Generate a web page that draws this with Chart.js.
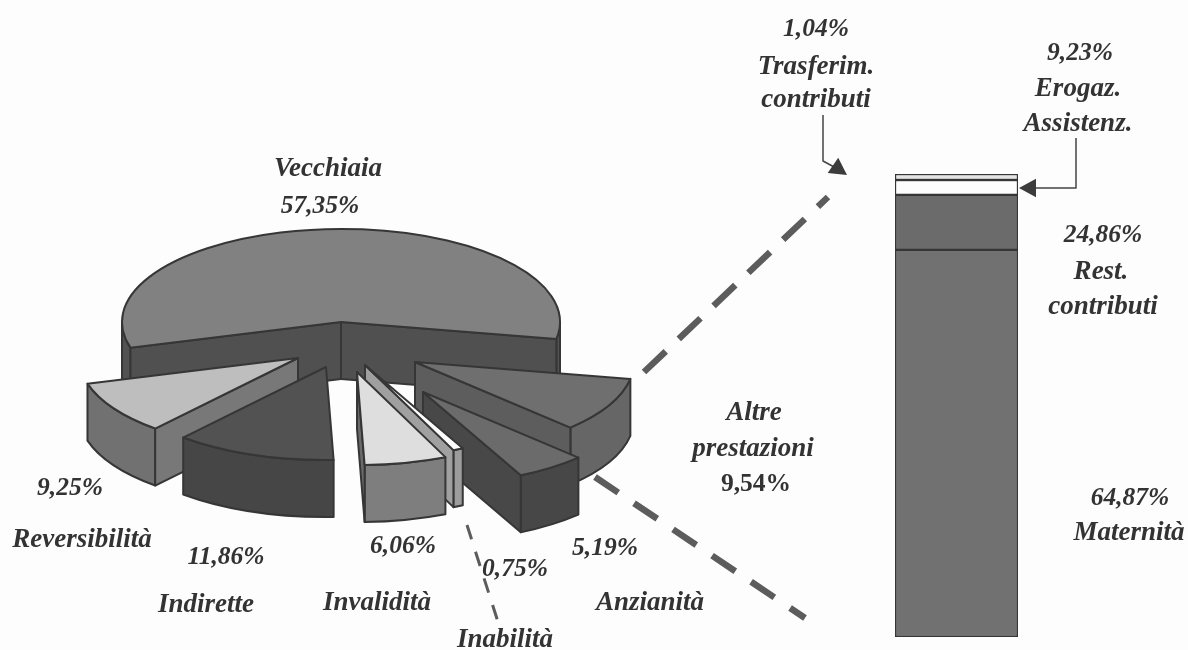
<!DOCTYPE html>
<html>
<head>
<meta charset="utf-8">
<script src="https://cdn.jsdelivr.net/npm/chart.js@4"></script>
<style>
    html, body { margin: 0; padding: 0; background: #fdfdfd; }
    #page { position: relative; width: 1188px; height: 650px; overflow: hidden; filter: blur(0.5px); }
    canvas { position: absolute; }
    .lbl {
        position: absolute;
        transform: translate(-50%, -50%);
        font: italic bold 27px "Liberation Serif", serif;
        color: #333333;
        white-space: nowrap;
    }
    .lbl.pct { font-size: 25.5px; }
    .lbl.upright { font-style: normal; }
</style>
</head>
<body>
<div id="page">
    <canvas id="pieChart" width="1188" height="650" style="left:0;top:0"></canvas>
    <canvas id="barChart" width="127" height="467" style="left:893px;top:172px"></canvas>
</div>
<script>
// Pie data, as printed on the slices
const sliceNames = ['Vecchiaia', 'Altre prestazioni', 'Anzianità', 'Inabilità', 'Invalidità', 'Indirette', 'Reversibilità'];
const sliceValues = [57.35, 9.54, 5.19, 0.75, 6.06, 11.86, 9.25];

// Column data: printed shares, and the heights really drawn in the picture (they differ)
const barNames = ['Maternità', 'Rest. contributi', 'Erogaz. Assistenz.', 'Trasferim. contributi'];
const barPrinted = [64.87, 24.86, 9.23, 1.04];
const barHeights = [83.6, 11.9, 3.2, 1.3];

// Styles
const sliceTop = ['#818181', '#6f6f6f', '#6b6b6b', '#fdfdfd', '#dedede', '#525252', '#bebebe'];
const sliceRim = ['#525252', '#666666', '#474747', '#9c9c9c', '#7e7e7e', '#464646', '#717171'];
const sliceFace = ['#505050', '#5d5d5d', '#484848', '#a0a0a0', '#6a6a6a', '#464646', '#787878'];
const barColors = ['#717171', '#6b6b6b', '#fdfdfd', '#e4e4e4'];
const outline = '#363636';

// Where each exploded slice has its tip on the page, and the 3D look
const sliceTips = [[341, 322], [415, 362], [423, 392], [365, 365], [357, 372], [326, 367], [298, 358]];
const drawOrder = [0, 1, 6, 2, 5, 3, 4];
const tilt = 0.425;
const depth = 57;

const fmt = v => v.toFixed(2).replace('.', ',') + '%';

// Text labels: [text, centre x, centre y]
const labels = [
    [sliceNames[0], 328, 167], [fmt(sliceValues[0]), 320, 205],
    ['Altre', 754, 411], ['prestazioni', 753, 447], [fmt(sliceValues[1]), 756, 483],
    [fmt(sliceValues[2]), 605, 547], [sliceNames[2], 650, 601],
    [fmt(sliceValues[3]), 515, 568], [sliceNames[3], 505, 638],
    [fmt(sliceValues[4]), 403, 545], [sliceNames[4], 377, 601],
    [fmt(sliceValues[5]), 226, 556], [sliceNames[5], 206, 603],
    [fmt(sliceValues[6]), 70, 487], [sliceNames[6], 82, 538],
    [fmt(barPrinted[3]), 816, 28], ['Trasferim.', 816, 65], ['contributi', 816, 98],
    [fmt(barPrinted[2]), 1080, 52], ['Erogaz.', 1078, 87], ['Assistenz.', 1078, 122],
    [fmt(barPrinted[1]), 1103, 234], ['Rest.', 1101, 270], ['contributi', 1103, 305],
    [fmt(barPrinted[0]), 1130, 497], [barNames[0], 1129, 531]
];

// Connector lines: [x1, y1, x2, y2, width, dash on, dash off]
const dashLines = [
    [644, 372, 828, 197, 6.5, 30, 18],
    [595, 477, 805, 618, 6.5, 28, 19],
    [467, 525, 498, 622, 3, 15, 13]
];

function drawArrowHead(ctx, x, y, angle, size) {
    ctx.save();
    ctx.translate(x, y);
    ctx.rotate(angle);
    ctx.beginPath();
    ctx.moveTo(0, 0);
    ctx.lineTo(-size, -size * 0.55);
    ctx.lineTo(-size, size * 0.55);
    ctx.closePath();
    ctx.fill();
    ctx.restore();
}

// Squashes the library's pie arcs and stacks them to get the 3D slices
const pie3d = {
    id: 'pie3d',
    beforeDatasetsDraw(chart) {
        const ctx = chart.ctx;
        const arcs = chart.getDatasetMeta(0).data;

        drawOrder.forEach(i => {
            const arc = arcs[i];
            const opts = arc.options;
            const [tx, ty] = sliceTips[i];
            const r = arc.outerRadius;
            const a0 = arc.startAngle;
            const a1 = arc.endAngle;
            const corner = (a, d) => [tx + Math.cos(a) * r, ty + d + Math.sin(a) * r * tilt];

            // rim: same arc repeated downwards in the rim colour
            arc.options = Object.assign({}, opts, { backgroundColor: sliceRim[i], borderWidth: 0 });
            for (let d = depth; d >= 0.5; d -= 0.5) {
                ctx.save();
                ctx.translate(tx, ty + d);
                ctx.scale(1, tilt);
                ctx.translate(-arc.x, -arc.y);
                arc.draw(ctx);
                ctx.restore();
            }

            ctx.strokeStyle = outline;
            ctx.lineWidth = 2;
            ctx.lineJoin = 'round';

            // front part of the rim, flat fill over the stack, then its edges
            [[-2 * Math.PI, -Math.PI], [0, Math.PI]].forEach(([lo, hi]) => {
                const from = Math.max(a0, lo);
                const to = Math.min(a1, hi);
                if (to <= from) return;
                ctx.beginPath();
                ctx.moveTo(...corner(from, 0));
                ctx.lineTo(...corner(from, depth));
                ctx.ellipse(tx, ty + depth, r, r * tilt, 0, from, to);
                ctx.lineTo(...corner(to, 0));
                ctx.ellipse(tx, ty, r, r * tilt, 0, to, from, true);
                ctx.closePath();
                ctx.fillStyle = sliceRim[i];
                ctx.fill();
                ctx.stroke();
            });

            // cut faces that turn towards the viewer
            [[a0, Math.cos(a0) < 0], [a1, Math.cos(a1) > 0]].forEach(([a, visible]) => {
                if (!visible) return;
                const [cx, cy] = corner(a, 0);
                ctx.beginPath();
                ctx.moveTo(tx, ty);
                ctx.lineTo(cx, cy);
                ctx.lineTo(cx, cy + depth);
                ctx.lineTo(tx, ty + depth);
                ctx.closePath();
                ctx.fillStyle = sliceFace[i];
                ctx.fill();
                ctx.stroke();
            });

            // top surface
            arc.options = Object.assign({}, opts, { borderWidth: 0 });
            ctx.save();
            ctx.translate(tx, ty);
            ctx.scale(1, tilt);
            ctx.translate(-arc.x, -arc.y);
            arc.draw(ctx);
            ctx.restore();
            arc.options = opts;

            ctx.beginPath();
            ctx.moveTo(tx, ty);
            ctx.lineTo(...corner(a0, 0));
            ctx.ellipse(tx, ty, r, r * tilt, 0, a0, a1);
            ctx.closePath();
            ctx.stroke();
        });
        return false;
    },
    afterDraw(chart) {
        const ctx = chart.ctx;
        ctx.save();
        ctx.strokeStyle = '#5c5c5c';
        dashLines.forEach(([x1, y1, x2, y2, w, on, off]) => {
            ctx.lineWidth = w;
            ctx.setLineDash([on, off]);
            ctx.beginPath();
            ctx.moveTo(x1, y1);
            ctx.lineTo(x2, y2);
            ctx.stroke();
        });
        ctx.setLineDash([]);

        // the two small arrows
        ctx.strokeStyle = '#444444';
        ctx.fillStyle = '#3c3c3c';
        ctx.lineWidth = 1.5;
        ctx.beginPath();
        ctx.moveTo(823, 115);
        ctx.lineTo(823, 161);
        ctx.lineTo(836, 168);
        ctx.moveTo(1076, 138);
        ctx.lineTo(1076, 188);
        ctx.lineTo(1034, 188);
        ctx.stroke();
        drawArrowHead(ctx, 847, 175, 0.6, 17);
        drawArrowHead(ctx, 1019, 188, Math.PI, 17);
        ctx.restore();
    }
};

new Chart(document.getElementById('pieChart'), {
    type: 'pie',
    data: {
        labels: sliceNames,
        datasets: [{ data: sliceValues, backgroundColor: sliceTop, borderWidth: 0 }]
    },
    options: {
        responsive: false,
        animation: false,
        rotation: -106,
        radius: 219,
        plugins: { legend: { display: false }, tooltip: { enabled: false } }
    },
    plugins: [pie3d]
});

new Chart(document.getElementById('barChart'), {
    type: 'bar',
    data: {
        labels: [''],
        datasets: barNames.map((name, i) => ({
            label: name,
            data: [barHeights[i]],
            backgroundColor: barColors[i],
            borderColor: outline,
            borderWidth: 1.5,
            borderSkipped: false,
            barPercentage: 1,
            categoryPercentage: 1
        }))
    },
    options: {
        responsive: false,
        animation: false,
        layout: { padding: 2 },
        scales: {
            x: { stacked: true, display: false },
            y: { stacked: true, display: false, min: 0, max: 100 }
        },
        plugins: { legend: { display: false }, tooltip: { enabled: false } }
    }
});

const page = document.getElementById('page');
labels.forEach(([text, x, y]) => {
    const el = document.createElement('div');
    el.className = 'lbl';
    if (text.endsWith('%')) el.classList.add('pct');
    if (text === fmt(sliceValues[1])) el.classList.add('upright');
    el.textContent = text;
    el.style.left = x + 'px';
    el.style.top = y + 'px';
    page.appendChild(el);
});
</script>
</body>
</html>
